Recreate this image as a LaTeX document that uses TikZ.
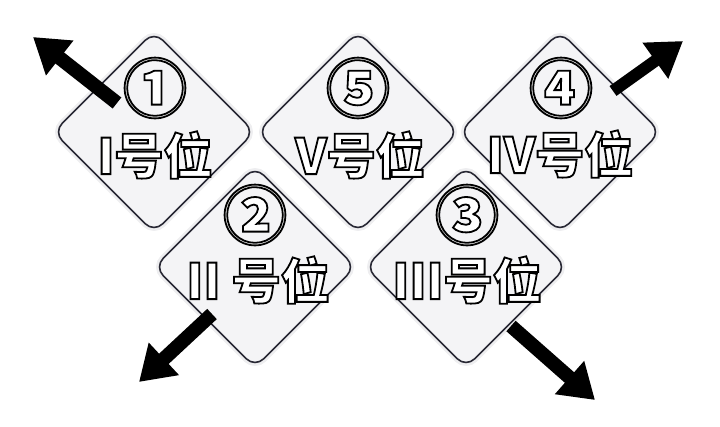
\documentclass[tikz,border=0pt]{standalone}
\usepackage{fontspec}
\usepackage{tikz}
\newfontfamily\cjk{Noto Sans CJK SC}
\definecolor{white}{rgb}{1.0, 1.0, 1.0}
\definecolor{black}{rgb}{0.0, 0.0, 0.0}
\definecolor{lgray}{RGB}{244, 244, 246}
\definecolor{dnavy}{RGB}{40, 40, 52}
\definecolor{halo}{RGB}{238, 238, 240}
\usetikzlibrary{arrows.meta}
\pgfdeclarelayer{boxlayer}
\pgfdeclarelayer{arrowlayer}
\pgfsetlayers{boxlayer,arrowlayer,main}
\tikzstyle{spot}=[rectangle,rotate=45,minimum size=142pt,rounded corners=12pt,fill=lgray,draw=dnavy,line width=1.6pt,preaction={draw=halo,line width=7pt}]
\tikzstyle{num}=[font=\cjk\bfseries\fontsize{64}{64}\selectfont,inner sep=0pt]
\tikzstyle{lbl}=[font=\cjk\bfseries\fontsize{49}{49}\selectfont,inner sep=0pt]
\tikzstyle{fat}=[line width=14pt,-{Triangle[length=34pt,width=42pt]}]
\newcommand\outl[1]{{\color{white}\special{pdf:literal direct 0 0 0 RG 2 Tr 1.8 w}#1\special{pdf:literal direct 0 Tr}}}

\begin{document}
\begin{tikzpicture}[x=1pt, y=-1pt]
        \useasboundingbox (0, 0) rectangle (720, 426);
        \begin{pgfonlayer}{boxlayer}
            \node [style = spot] (p1) at (154, 132) {};
            \node [style = spot] (p5) at (358, 132) {};
            \node [style = spot] (p4) at (560, 132) {};
            \node [style = spot] (p2) at (255, 267) {};
            \node [style = spot] (p3) at (466, 267) {};
        \end{pgfonlayer}

        \node [style = num] (n1) at (155, 88) {\outl{①}};
        \node [style = lbl] (t1) at (155, 155) {\outl{I号位}};
        \node [style = num] (n5) at (358, 88) {\outl{⑤}};
        \node [style = lbl] (t5) at (360, 155) {\outl{V号位}};
        \node [style = num] (n4) at (561, 88) {\outl{④}};
        \node [style = lbl] (t4) at (560, 154) {\outl{IV号位}};
        \node [style = num] (n2) at (255, 215) {\outl{②}};
        \node [style = lbl] (t2) at (258, 280) {\outl{II 号位}};
        \node [style = num] (n3) at (467, 215) {\outl{③}};
        \node [style = lbl] (t3) at (467, 280) {\outl{III号位}};

        \coordinate (a1) at (117, 103);
        \coordinate (b1) at (33, 37);
        \coordinate (a4) at (613, 91);
        \coordinate (b4) at (683, 41);
        \coordinate (a2) at (212, 314);
        \coordinate (b2) at (139, 382);
        \coordinate (a3) at (511, 326);
        \coordinate (b3) at (595, 400);

        \begin{pgfonlayer}{arrowlayer}
            \draw [style = fat] (a1) to (b1);
            \draw [style = fat, line width=12pt] (a4) to (b4);
            \draw [style = fat] (a2) to (b2);
            \draw [style = fat] (a3) to (b3);
        \end{pgfonlayer}
    \end{tikzpicture}
\end{document}
